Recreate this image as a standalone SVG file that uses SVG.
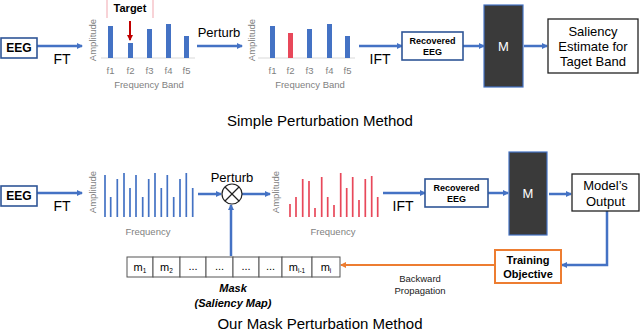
<svg xmlns="http://www.w3.org/2000/svg" width="640" height="334" viewBox="0 0 640 334">
<defs>
<marker id="ab" markerWidth="6" markerHeight="6" refX="5" refY="3" orient="auto" markerUnits="userSpaceOnUse"><path d="M0,0 L6,3 L0,6 z" fill="#4472C4"/></marker>
<marker id="ao" markerWidth="6" markerHeight="6" refX="5" refY="3" orient="auto" markerUnits="userSpaceOnUse"><path d="M0,0 L6,3 L0,6 z" fill="#ED7D31"/></marker>
<marker id="ar" markerWidth="6" markerHeight="6" refX="5" refY="3" orient="auto" markerUnits="userSpaceOnUse"><path d="M0,0 L6,3 L0,6 z" fill="#C00000"/></marker>
</defs>
<style>
text{font-family:"Liberation Sans",Arial,sans-serif}
.a{stroke:#4472C4;stroke-width:2.5;fill:none}
.bx{fill:#fff;stroke:#2F5597;stroke-width:1.6}
.m{fill:#3a3a3a;stroke:#4472C4;stroke-width:1.2}
.lbl{font-size:14px;fill:#000}
.bb{font-weight:bold;fill:#000}
.g{fill:#7f7f7f;font-size:9.5px}
.bar{fill:#4472C4}
.tb{stroke:#4472C4;stroke-width:1.7}
.tr{stroke:#E8485A;stroke-width:1.7}
.cell{fill:#fff;stroke:#555;stroke-width:1}
.mt{font-size:11px;fill:#000;text-anchor:middle}
.mt tspan.s{font-size:6.5px}
</style>

<g id="connectors">
<line class="a" x1="37" y1="46" x2="82" y2="46" marker-end="url(#ab)"/>
<line class="a" x1="197" y1="46" x2="242" y2="46" marker-end="url(#ab)"/>
<line class="a" x1="359" y1="46" x2="402" y2="46" marker-end="url(#ab)"/>
<line class="a" x1="463" y1="46" x2="484" y2="46" marker-end="url(#ab)"/>
<line class="a" x1="524" y1="46" x2="547" y2="46" marker-end="url(#ab)"/>
<line class="a" x1="37" y1="193" x2="82" y2="193" marker-end="url(#ab)"/>
<line class="a" x1="198" y1="194" x2="221" y2="194" marker-end="url(#ab)"/>
<line class="a" x1="242" y1="194" x2="270" y2="194" marker-end="url(#ab)"/>
<line class="a" x1="231" y1="256" x2="231" y2="205" marker-end="url(#ab)"/>
<line class="a" x1="383" y1="193" x2="425" y2="193" marker-end="url(#ab)"/>
<line class="a" x1="488" y1="193" x2="508" y2="193" marker-end="url(#ab)"/>
<line class="a" x1="549" y1="194" x2="571" y2="194" marker-end="url(#ab)"/>
<path class="a" d="M607,211 V265 H562" marker-end="url(#ab)"/>
<line x1="495" y1="265" x2="341" y2="265" stroke="#ED7D31" stroke-width="2" marker-end="url(#ao)"/>
<text class="lbl" x="62" y="64" text-anchor="middle">FT</text>
<text x="219" y="37" font-size="13" text-anchor="middle">Perturb</text>
<text class="lbl" x="380" y="64" text-anchor="middle">IFT</text>
<text class="lbl" x="62" y="211" text-anchor="middle">FT</text>
<text class="lbl" x="403" y="211" text-anchor="middle">IFT</text>
<text x="420" y="282" font-size="9.5" text-anchor="middle" fill="#222">Backward</text>
<text x="420" y="294" font-size="9.5" text-anchor="middle" fill="#222">Propagation</text>
</g>

<g id="eeg1"><rect class="bx" x="1" y="38" width="36" height="20"/><text class="bb" x="19" y="52" font-size="12" text-anchor="middle">EEG</text></g>

<g id="chart1">
<line x1="101" y1="58" x2="195" y2="58" stroke="#d9d9d9"/>
<text class="g" transform="translate(96,40) rotate(-90)" text-anchor="middle" font-size="10">Amplitude</text>
<rect class="bar" x="108" y="26" width="5" height="32"/>
<rect class="bar" x="128" y="43" width="5" height="15"/>
<rect class="bar" x="147" y="29" width="5" height="29"/>
<rect class="bar" x="166" y="24" width="5" height="34"/>
<rect class="bar" x="184" y="36" width="5" height="22"/>
<g class="g" text-anchor="middle"><text x="110.5" y="74">f1</text><text x="130.5" y="74">f2</text><text x="149.5" y="74">f3</text><text x="168.5" y="74">f4</text><text x="186.5" y="74">f5</text></g>
<text class="g" x="149" y="88" text-anchor="middle" font-size="10">Frequency Band</text>
<line x1="107" y1="0" x2="107" y2="18" stroke="#F4B6BD" stroke-width="1.2"/>
<line x1="153" y1="0" x2="153" y2="18" stroke="#F4B6BD" stroke-width="1.2"/>
<text class="bb" x="130" y="12" font-size="11" text-anchor="middle">Target</text>
<line x1="130" y1="21" x2="130" y2="40" stroke="#C00000" stroke-width="2" marker-end="url(#ar)"/>
</g>

<g id="chart2">
<line x1="258" y1="58" x2="355" y2="58" stroke="#d9d9d9"/>
<text class="g" transform="translate(255,40) rotate(-90)" text-anchor="middle" font-size="10">Amplitude</text>
<rect class="bar" x="270" y="26" width="5" height="32"/>
<rect x="288" y="33" width="5" height="25" fill="#E8485A"/>
<rect class="bar" x="307" y="29" width="5" height="29"/>
<rect class="bar" x="327" y="24" width="5" height="34"/>
<rect class="bar" x="345" y="36" width="5" height="22"/>
<g class="g" text-anchor="middle"><text x="272.5" y="74">f1</text><text x="290.5" y="74">f2</text><text x="309.5" y="74">f3</text><text x="329.5" y="74">f4</text><text x="347.5" y="74">f5</text></g>
<text class="g" x="310" y="88" text-anchor="middle" font-size="10">Frequency Band</text>
</g>

<g id="recovered1"><rect class="bx" x="402" y="32" width="61" height="28"/><text class="bb" x="432.5" y="44" font-size="9" text-anchor="middle">Recovered</text><text class="bb" x="432.5" y="55" font-size="9" text-anchor="middle">EEG</text></g>
<g id="model1"><rect class="m" x="484" y="5" width="39" height="82"/><text x="503.5" y="51" font-size="13" fill="#fff" text-anchor="middle">M</text></g>
<g id="saliency"><rect x="548" y="19" width="90" height="54" fill="#fff" stroke="#222" stroke-width="1.3"/>
<g font-size="13" text-anchor="middle"><text x="593" y="36">Saliency</text><text x="593" y="51">Estimate for</text><text x="593" y="66">Taget Band</text></g></g>

<text x="320" y="126" font-size="15" text-anchor="middle">Simple Perturbation Method</text>

<g id="eeg2"><rect class="bx" x="1" y="186" width="36" height="20"/><text class="bb" x="19" y="200" font-size="12" text-anchor="middle">EEG</text></g>

<g id="chart3">
<text class="g" transform="translate(96,192) rotate(-90)" text-anchor="middle" font-size="10">Amplitude</text>
<g class="tb">
<line x1="105" y1="175" x2="105" y2="217"/><line x1="110.7" y1="197" x2="110.7" y2="217"/><line x1="117.3" y1="179" x2="117.3" y2="217"/>
<line x1="124" y1="173" x2="124" y2="217"/><line x1="130" y1="188" x2="130" y2="217"/><line x1="136" y1="175" x2="136" y2="217"/>
<line x1="142.7" y1="197" x2="142.7" y2="217"/><line x1="148.7" y1="179" x2="148.7" y2="217"/><line x1="155" y1="173" x2="155" y2="217"/>
<line x1="161.3" y1="188" x2="161.3" y2="217"/><line x1="167.3" y1="175" x2="167.3" y2="217"/><line x1="173.7" y1="197" x2="173.7" y2="217"/>
<line x1="180" y1="179" x2="180" y2="217"/><line x1="186.3" y1="173" x2="186.3" y2="217"/><line x1="192.7" y1="188" x2="192.7" y2="217"/>
</g>
<text class="g" x="148" y="235" text-anchor="middle" font-size="10">Frequency</text>
</g>

<g id="perturb"><circle cx="232" cy="194" r="10" fill="#fff" stroke="#222" stroke-width="1.2"/>
<line x1="225" y1="187" x2="239" y2="201" stroke="#222" stroke-width="1.2"/><line x1="239" y1="187" x2="225" y2="201" stroke="#222" stroke-width="1.2"/>
<text x="232" y="182" font-size="13" text-anchor="middle">Perturb</text></g>

<g id="chart4">
<text class="g" transform="translate(279,192) rotate(-90)" text-anchor="middle" font-size="10">Amplitude</text>
<g class="tr">
<line x1="290" y1="204" x2="290" y2="217"/><line x1="296" y1="197" x2="296" y2="217"/><line x1="302.7" y1="179" x2="302.7" y2="217"/>
<line x1="309" y1="181" x2="309" y2="217"/><line x1="315" y1="208" x2="315" y2="217"/><line x1="321.7" y1="177" x2="321.7" y2="217"/>
<line x1="327.7" y1="197" x2="327.7" y2="217"/><line x1="334" y1="205" x2="334" y2="217"/><line x1="340.7" y1="173" x2="340.7" y2="217"/>
<line x1="346.7" y1="188" x2="346.7" y2="217"/><line x1="352.7" y1="177" x2="352.7" y2="217"/><line x1="359" y1="200" x2="359" y2="217"/>
<line x1="365.3" y1="179" x2="365.3" y2="217"/><line x1="371.7" y1="176" x2="371.7" y2="217"/><line x1="377.7" y1="197" x2="377.7" y2="217"/>
</g>
<text class="g" x="333" y="235" text-anchor="middle" font-size="10">Frequency</text>
</g>

<g id="recovered2"><rect class="bx" x="425" y="179" width="63" height="28"/><text class="bb" x="456.5" y="191" font-size="9" text-anchor="middle">Recovered</text><text class="bb" x="456.5" y="202" font-size="9" text-anchor="middle">EEG</text></g>
<g id="model2"><rect class="m" x="509" y="152" width="38" height="83"/><text x="528" y="198" font-size="13" fill="#fff" text-anchor="middle">M</text></g>
<g id="output"><rect x="572" y="174" width="67" height="37" fill="#fff" stroke="#222" stroke-width="1.3"/>
<text x="605.5" y="190" font-size="13" text-anchor="middle">Model’s</text><text x="605.5" y="206" font-size="13" text-anchor="middle">Output</text></g>
<g id="training"><rect x="495" y="250" width="66" height="33" fill="#fff" stroke="#ED7D31" stroke-width="2"/>
<text class="bb" x="528" y="264" font-size="11" text-anchor="middle">Training</text><text class="bb" x="528" y="278" font-size="11" text-anchor="middle">Objective</text></g>

<g id="mask">
<rect class="cell" x="127" y="257" width="26" height="20"/><rect class="cell" x="153" y="257" width="27" height="20"/>
<rect class="cell" x="180" y="257" width="26" height="20"/><rect class="cell" x="206" y="257" width="27" height="20"/>
<rect class="cell" x="233" y="257" width="26" height="20"/><rect class="cell" x="259" y="257" width="23" height="20"/>
<rect class="cell" x="282" y="257" width="30" height="20"/><rect class="cell" x="312" y="257" width="28" height="20"/>
<text class="mt" x="140" y="271">m<tspan class="s" dy="2">1</tspan></text>
<text class="mt" x="166.5" y="271">m<tspan class="s" dy="2">2</tspan></text>
<text class="mt" x="193" y="270">...</text>
<text class="mt" x="219.5" y="270">...</text>
<text class="mt" x="246" y="270">...</text>
<text class="mt" x="270.5" y="270">...</text>
<text class="mt" x="297" y="271">m<tspan class="s" dy="2">i-1</tspan></text>
<text class="mt" x="326" y="271">m<tspan class="s" dy="2">i</tspan></text>
<text x="233" y="292" font-size="11" font-weight="bold" font-style="italic" text-anchor="middle">Mask</text>
<text x="233" y="307" font-size="11" font-weight="bold" font-style="italic" text-anchor="middle">(Saliency Map)</text>
</g>

<text x="320" y="329" font-size="15" text-anchor="middle">Our Mask Perturbation Method</text>
</svg>
